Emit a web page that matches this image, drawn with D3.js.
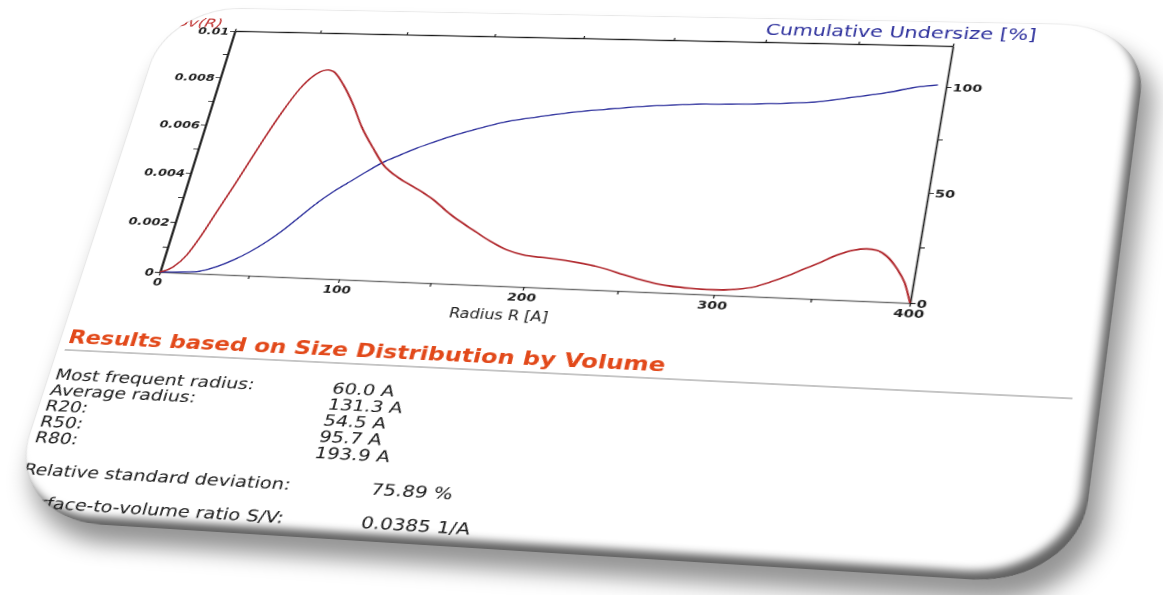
<!DOCTYPE html>
<html>
<head>
<meta charset="utf-8">
<script src="https://cdn.jsdelivr.net/npm/d3@7"></script>
<style>
  html, body { margin: 0; padding: 0; background: #fff; width: 1163px; height: 595px; overflow: hidden; }
  #card {
    position: absolute; left: 0; top: 0;
    width: 952px; height: 615px;
    background: #fff;
    border-radius: 75px 80px 85px 95px;
    overflow: hidden;
    transform-origin: 0 0;
    box-shadow:
      inset -8px -10px 9px -2px rgba(0,0,0,0.62),
      inset 1px 1px 1px rgba(0,0,0,0.10),
      12px 20px 22px rgba(0,0,0,0.42);
  }
  #card svg { display: block; font-family: "DejaVu Sans", Verdana, sans-serif; }
</style>
</head>
<body>
<div id="card"></div>
<script>
// ---------------- data ----------------
// volume-weighted size distribution (left axis)
const radius = [0, 6.5, 12.0, 16.3, 21.4, 26.8, 31.1, 36.4, 41.9, 47.7, 54.8, 58.1, 61.0, 64.0, 71.9, 80.8, 89.0, 98.9, 107.0, 118.3,
  128.9, 139.5, 151.0, 165.7, 176.2, 186.3, 195.8, 204.9, 214.0, 223.1, 232.3, 241.6, 251.0, 260.2, 269.4, 278.3, 287.1, 295.8, 304.4, 312.8,
  319.4, 327.4, 335.4, 343.2, 351.1, 358.9, 366.8, 373.6, 378.8, 384.4, 390.4, 395.8, 400];
const volumeDensity = [0, 0.00022, 0.00070, 0.00140, 0.00245, 0.00355, 0.00448, 0.00562, 0.00668, 0.00760, 0.00825, 0.00839, 0.00843, 0.00837, 0.00782, 0.00699, 0.00610, 0.00523, 0.00458, 0.00404,
  0.00367, 0.00326, 0.00270, 0.00211, 0.00171, 0.00140, 0.00123, 0.00116, 0.00111, 0.00104, 0.00094, 0.00080, 0.00062, 0.00046, 0.00033, 0.00025, 0.00021, 0.00019, 0.00020, 0.00026,
  0.00035, 0.00056, 0.00081, 0.00109, 0.00137, 0.00167, 0.00188, 0.00195, 0.00191, 0.00170, 0.00127, 0.00072, 0];

// cumulative undersize in % (right axis)
const cumRadius = [0, 20.4, 30.7, 38.8, 46.7, 54.4, 61.7, 68.8, 76.0, 83.4, 91.1, 98.8, 106.6, 114.8, 123.0, 131.3, 139.8, 151.7, 168.9, 186.5,
  204.2, 222.0, 239.7, 257.5, 275.3, 293.2, 317.9, 335.4, 352.4, 369.5, 386.4, 395.6];
const cumUndersize = [0, 0.9, 3.6, 7.0, 11.2, 16.3, 22.1, 28.7, 35.4, 41.2, 46.3, 51.4, 56.2, 59.9, 63.5, 66.6, 69.6, 73.2, 77.7, 80.6,
  83.2, 85.1, 86.8, 88.0, 88.9, 89.3, 90.3, 91.5, 94.0, 96.6, 99.9, 100.9];

// axis ticks
const radiusTicks = [0, 50, 100, 150, 200, 250, 300, 350, 400];
const radiusLabels = [0, 100, 200, 300, 400];
const densityTicks = [0, 0.001, 0.002, 0.003, 0.004, 0.005, 0.006, 0.007, 0.008, 0.009, 0.01];
const densityLabels = [0, 0.002, 0.004, 0.006, 0.008, 0.01];
const percentTicks = [0, 25, 50, 75, 100];
const percentLabels = [0, 50, 100];

// results table
const statLabels = ["Most frequent radius:", "Average radius:", "R20:", "R50:", "R80:"];
const statValues = ["60.0 A", "131.3 A", "54.5 A", "95.7 A", "193.9 A"];
const extraLabels = ["Relative standard deviation:", "Surface-to-volume ratio S/V:"];
const extraValues = ["75.89 %", "0.0385 1/A"];

// ---------------- layout (flat card coordinates) ----------------
const CARD = { w: 952, h: 615 };
const plot = { x: 77, y: 30, w: 700, h: 300 };
const ROW0 = 459, ROW = 17.8;

const svg = d3.select('#card').append('svg')
  .attr('width', CARD.w).attr('height', CARD.h);

const x = d3.scaleLinear().domain([0, 400]).range([plot.x, plot.x + plot.w]);
const yL = d3.scaleLinear().domain([0, 0.01]).range([plot.y + plot.h, plot.y]);
const yR = d3.scaleLinear().domain([0, 120]).range([plot.y + plot.h, plot.y]);

const fmt = d3.format('~g');
function styleAxis(g, domainColor, domainWidth) {
  g.select('.domain').attr('stroke', domainColor).attr('stroke-width', domainWidth);
  g.selectAll('.tick line').attr('stroke', '#222').attr('stroke-width', 1.2);
  g.selectAll('.tick text').attr('fill', '#222').attr('font-size', 13).attr('font-weight', 700)
    .attr('font-family', '"DejaVu Sans", Verdana, sans-serif');
}

// top frame (ticks only)
svg.append('g').attr('transform', `translate(0,${plot.y})`)
  .call(d3.axisTop(x).tickValues(radiusTicks).tickSize(3).tickSizeOuter(0).tickFormat(''))
  .call(g => styleAxis(g, '#1a1a1a', 1.6));

// bottom axis
svg.append('g').attr('transform', `translate(0,${plot.y + plot.h})`)
  .call(d3.axisBottom(x).tickValues(radiusTicks).tickSize(4).tickSizeOuter(0).tickPadding(3)
    .tickFormat(d => radiusLabels.includes(d) ? fmt(d) : ''))
  .call(g => styleAxis(g, '#6d6d6d', 1.3));

// left axis
svg.append('g').attr('transform', `translate(${plot.x},0)`)
  .call(d3.axisLeft(yL).tickValues(densityTicks).tickSize(5).tickSizeOuter(0).tickPadding(1)
    .tickFormat(d => densityLabels.includes(d) ? fmt(d) : ''))
  .call(g => styleAxis(g, '#111', 2.2));

// right axis
svg.append('g').attr('transform', `translate(${plot.x + plot.w},0)`)
  .call(d3.axisRight(yR).tickValues(percentTicks).tickSize(5).tickSizeOuter(0).tickPadding(1)
    .tickFormat(d => percentLabels.includes(d) ? fmt(d) : ''))
  .call(g => styleAxis(g, '#222', 1.6));

// curves
const densityLine = d3.line().curve(d3.curveMonotoneX)
  .x((d, i) => x(radius[i])).y(d => yL(d));
const cumLine = d3.line().curve(d3.curveMonotoneX)
  .x((d, i) => x(cumRadius[i])).y(d => yR(d));

svg.append('path').datum(cumUndersize).attr('d', cumLine)
  .attr('fill', 'none').attr('stroke', '#2c2f9c').attr('stroke-width', 1.6);
svg.append('path').datum(volumeDensity).attr('d', densityLine)
  .attr('fill', 'none').attr('stroke', '#b0272c').attr('stroke-width', 1.8);

// text helper: optional horizontal stretch keeps the report's wide lettering
function put(str, px, py, o = {}) {
  return svg.append('text')
    .attr('transform', `translate(${px},${py}) scale(${o.sx || 1},1)`)
    .attr('font-size', o.size || 16)
    .attr('font-weight', o.weight || 400)
    .attr('font-style', o.style || 'normal')
    .attr('fill', o.fill || '#1c1c1c')
    .attr('text-anchor', o.anchor || 'start')
    .text(str);
}

// axis titles
put('Dv(R)', 62, 25.5, { size: 15, sx: 1.15, style: 'italic', fill: '#c0302f', anchor: 'end' });
put('Cumulative Undersize [%]', 600, 20.5, { size: 19.3, fill: '#2c2f9c' });
put('Radius R [A]', 364, 368, { size: 15 });

// results section
put('Results based on Size Distribution by Volume', 8, 417, { size: 22, weight: 700, fill: '#e2491a' });
svg.append('line').attr('x1', 8).attr('x2', 928).attr('y1', 425).attr('y2', 425)
  .attr('stroke', '#8a8a8a').attr('stroke-width', 1.2);

statLabels.forEach((s, i) => put(s, 7, ROW0 + i * ROW, { size: 17, sx: 1.06 }));
statValues.forEach((s, i) => put(s, 274, ROW0 + i * ROW, { size: 17, sx: 1.06 }));
put(extraLabels[0], 6, ROW0 + 6 * ROW, { size: 17, sx: 1.06 });
put(extraValues[0], 334, ROW0 + 6 * ROW, { size: 17, sx: 1.06 });
put(extraLabels[1], 8, ROW0 + 8 * ROW, { size: 17, sx: 1.06 });
put(extraValues[1], 333, ROW0 + 8 * ROW, { size: 17, sx: 1.06 });

// ---------------- tilt the card in perspective ----------------
// solve the projective map that takes the flat plot frame onto its tilted outline
function homography(src, dst) {
  const A = [], B = [];
  for (let i = 0; i < 4; i++) {
    const [X, Y] = src[i], [u, v] = dst[i];
    A.push([X, Y, 1, 0, 0, 0, -X * u, -Y * u]); B.push(u);
    A.push([0, 0, 0, X, Y, 1, -X * v, -Y * v]); B.push(v);
  }
  const n = 8;
  for (let c = 0; c < n; c++) {
    let p = c;
    for (let r = c + 1; r < n; r++) if (Math.abs(A[r][c]) > Math.abs(A[p][c])) p = r;
    [A[c], A[p]] = [A[p], A[c]]; [B[c], B[p]] = [B[p], B[c]];
    for (let r = c + 1; r < n; r++) {
      const f = A[r][c] / A[c][c];
      for (let k = c; k < n; k++) A[r][k] -= f * A[c][k];
      B[r] -= f * B[c];
    }
  }
  const h = new Array(n);
  for (let r = n - 1; r >= 0; r--) {
    let s = B[r];
    for (let k = r + 1; k < n; k++) s -= A[r][k] * h[k];
    h[r] = s / A[r][r];
  }
  return h;
}

const flatFrame = [[plot.x, plot.y], [plot.x + plot.w, plot.y], [plot.x + plot.w, plot.y + plot.h], [plot.x, plot.y + plot.h]];
const tiltedFrame = [[235, 31], [953, 46], [910, 303], [160, 272]];
const h = homography(flatFrame, tiltedFrame);
document.getElementById('card').style.transform =
  `matrix3d(${h[0]},${h[3]},0,${h[6]},${h[1]},${h[4]},0,${h[7]},0,0,1,0,${h[2]},${h[5]},0,1)`;
</script>
</body>
</html>
